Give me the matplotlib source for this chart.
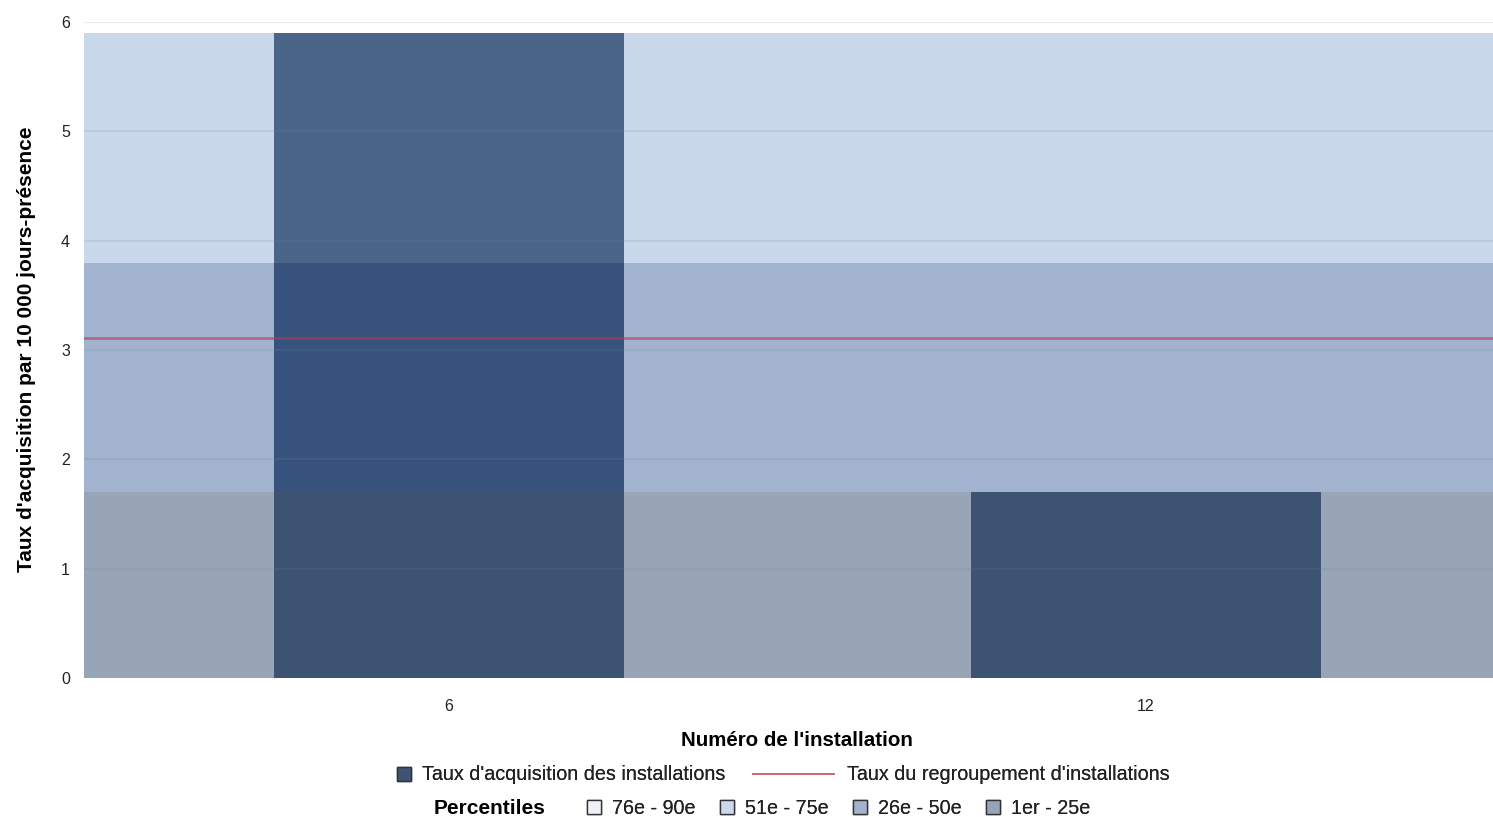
import matplotlib
matplotlib.use("Agg")
import matplotlib.pyplot as plt
from matplotlib.lines import Line2D

plt.rcParams['font.family'] = ['Liberation Sans', 'DejaVu Sans']

# ---- data ----
categories = ["6", "12"]
rates = [5.9, 1.7]
group_rate = 3.11
pct_bounds = [0.0, 1.7, 3.8, 5.9, 5.9]          # p0(min), p25, p50, p75, p90
pct_labels = ["1er - 25e", "26e - 50e", "51e - 75e", "76e - 90e"]
yticks = [0, 1, 2, 3, 4, 5, 6]

# ---- style ----
bar_color = (30/255, 50/255, 80/255)
band_colors = [(83/255, 106/255, 137/255), (78/255, 113/255, 166/255),
               (133/255, 167/255, 210/255), (225/255, 232/255, 243/255)]
band_alphas = [0.604, 0.53, 0.444, 0.3]
legend_swatch = ["#97a4b7", "#a1b3cf", "#cad9ec", "#eef2f8"]
red = (0.72, 0.22, 0.32)

W, H = 1493, 817
fig = plt.figure(figsize=(W/100, H/100), dpi=100)
ax = fig.add_axes([84/W, (H-678)/H, 1 - 84/W, (678-22)/H])

x = list(range(len(categories)))
ax.bar(x, rates, width=0.502, color=bar_color, zorder=1)

for i in range(4):
    lo, hi = pct_bounds[i], pct_bounds[i+1]
    if hi > lo:
        ax.axhspan(lo, hi, color=band_colors[i], alpha=band_alphas[i], lw=0, zorder=2)

for yv in yticks[1:]:
    ax.axhline(yv, color=(0.45, 0.5, 0.58), alpha=0.15, lw=1.5, zorder=3)

ax.axhline(group_rate, color=red, alpha=0.65, lw=1.8, zorder=4)

ax.set_xlim(-0.524, 1.498)
ax.set_ylim(0, 6)
ax.set_xticks(x)
ax.set_xticklabels(categories)
ax.set_yticks(yticks)
for s in ax.spines.values():
    s.set_visible(False)
ax.tick_params(axis='both', length=0, labelsize=11.5, colors='#222222')
ax.tick_params(axis='x', pad=15)
ax.tick_params(axis='y', pad=10)

fig.text(27/W, (H-349)/H, "Taux d'acquisition par 10 000 jours-présence", rotation=90,
         ha='center', va='center', fontsize=15, fontweight='bold')
fig.text(797/W, (H-741)/H, "Numéro de l'installation", ha='center', va='center',
         fontsize=14.8, fontweight='bold')

fs = 14.2
def entry(xpx, ypx, handle, label, hl=1.0, pad=0.44):
    lg = fig.legend([handle], [label], loc='center left',
                    bbox_to_anchor=(xpx/W, (H-ypx)/H), frameon=False,
                    borderpad=0, borderaxespad=0, handlelength=hl,
                    handletextpad=pad, fontsize=fs)
    for t in lg.get_texts():
        t.set_color('#222222')
    fig.add_artist(lg)

sq = dict(marker='s', markersize=10, linestyle='none', markeredgecolor='#333333',
          markeredgewidth=1.0)
entry(394, 775, Line2D([], [], markerfacecolor="#3e5472", **sq),
      "Taux d'acquisition des installations")
entry(753, 775, Line2D([], [], color=red, alpha=0.55, lw=1.3),
      "Taux du regroupement d'installations", hl=4.1, pad=0.67)

fig.text(490/W, (H-808)/H, "Percentiles", ha='center', va='center',
         fontsize=15, fontweight='bold')
xs = [983, 850, 717, 584]
for i in range(4):
    entry(xs[i], 808, Line2D([], [], markerfacecolor=legend_swatch[i], **sq), pct_labels[i])

fig.savefig("out.png", dpi=100)
